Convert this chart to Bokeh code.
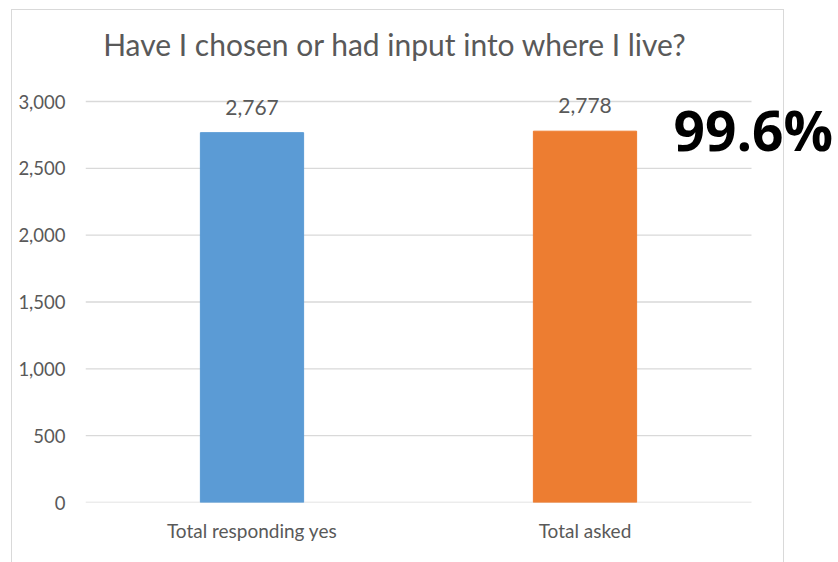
from bokeh.plotting import figure
from bokeh.models import ColumnDataSource, LabelSet, Label, NumeralTickFormatter, FixedTicker, Range1d
from bokeh.core.properties import value
from bokeh.embed import file_html
from bokeh.resources import INLINE

categories = ["Total responding yes", "Total asked"]
values = [2767, 2778]
value_labels = ["2,767", "2,778"]
colors = ["#5B9BD5", "#ED7D31"]
title_text = "Have I chosen or had input into where I live?"
pct_text = "99.6%"
y_ticks = [0, 500, 1000, 1500, 2000, 2500, 3000]

W, H = 838, 562
# frame: x 85..838, y 0..502 (page px); plot area for bars 85..751, 0..3000 -> 502..101
FL, FB = 85, 60
x_end = len(categories) * (W - FL) / (751 - FL)
y_end = 3000 * (H - FB) / (502 - 101)
xpos = [i + 0.5 for i in range(len(categories))]

border = "#d9d9d9"
styles = {
    "background-image": "linear-gradient(%s,%s), linear-gradient(%s,%s), linear-gradient(%s,%s)" % ((border,) * 6),
    "background-size": "1px 553px, 773px 1px, 1px 553px",
    "background-position": "11px 9px, 11px 9px, 783px 9px",
    "background-repeat": "no-repeat",
    "background-color": "white",
}

p = figure(width=W, height=H, x_range=Range1d(0, x_end), y_range=Range1d(0, y_end),
           output_backend="svg", toolbar_location=None, styles=styles,
           min_border_left=FL, min_border_right=0, min_border_top=0, min_border_bottom=FB)
p.title.visible = False
p.outline_line_color = None
p.background_fill_color = None
p.border_fill_color = None

# gridlines restricted to the bar area
p.segment(x0=0, x1=len(categories), y0=y_ticks, y1=y_ticks, line_color="#d9d9d9", line_width=1.3)

src = ColumnDataSource(dict(x=xpos, top=values, lab=value_labels, color=colors))
p.vbar(x="x", top="top", width=0.31, color="color", source=src)

p.add_layout(LabelSet(x="x", y="top", text="lab", source=src, text_align="center",
                      text_baseline="alphabetic", y_offset=18, text_font=value("Lato"),
                      text_font_size=value("21px"), text_color=value("#595959")))

p.xgrid.grid_line_color = None
p.ygrid.grid_line_color = None
p.yaxis.ticker = FixedTicker(ticks=y_ticks)
p.yaxis.formatter = NumeralTickFormatter(format="0,0")
p.xaxis.ticker = FixedTicker(ticks=xpos)
p.xaxis.major_label_overrides = {x: c for x, c in zip(xpos, categories)}
for ax in (p.xaxis[0], p.yaxis[0]):
    ax.axis_line_color = None
    ax.major_tick_line_color = None
    ax.minor_tick_line_color = None
    ax.major_tick_out = 0
    ax.major_tick_in = 0
    ax.major_label_text_font = "Lato"
    ax.major_label_text_color = "#595959"
p.yaxis.major_label_text_font_size = "18.5px"
p.yaxis.major_label_standoff = 20
p.xaxis.major_label_text_font_size = "19px"
p.xaxis.major_label_standoff = 16

p.add_layout(Label(x=394.5 - FL, y=459, x_units="screen", y_units="screen", text=title_text,
                   text_align="center", text_baseline="alphabetic", text_font="Lato",
                   text_font_size="30px", text_color="#595959"))
p.add_layout(Label(x=673 - FL, y=373, x_units="screen", y_units="screen", text=pct_text,
                   text_align="left", text_baseline="alphabetic", text_font="Open Sans",
                   text_font_style="bold", text_font_size="55px", text_color="black"))

open("out.html", "w").write(file_html(p, INLINE))
